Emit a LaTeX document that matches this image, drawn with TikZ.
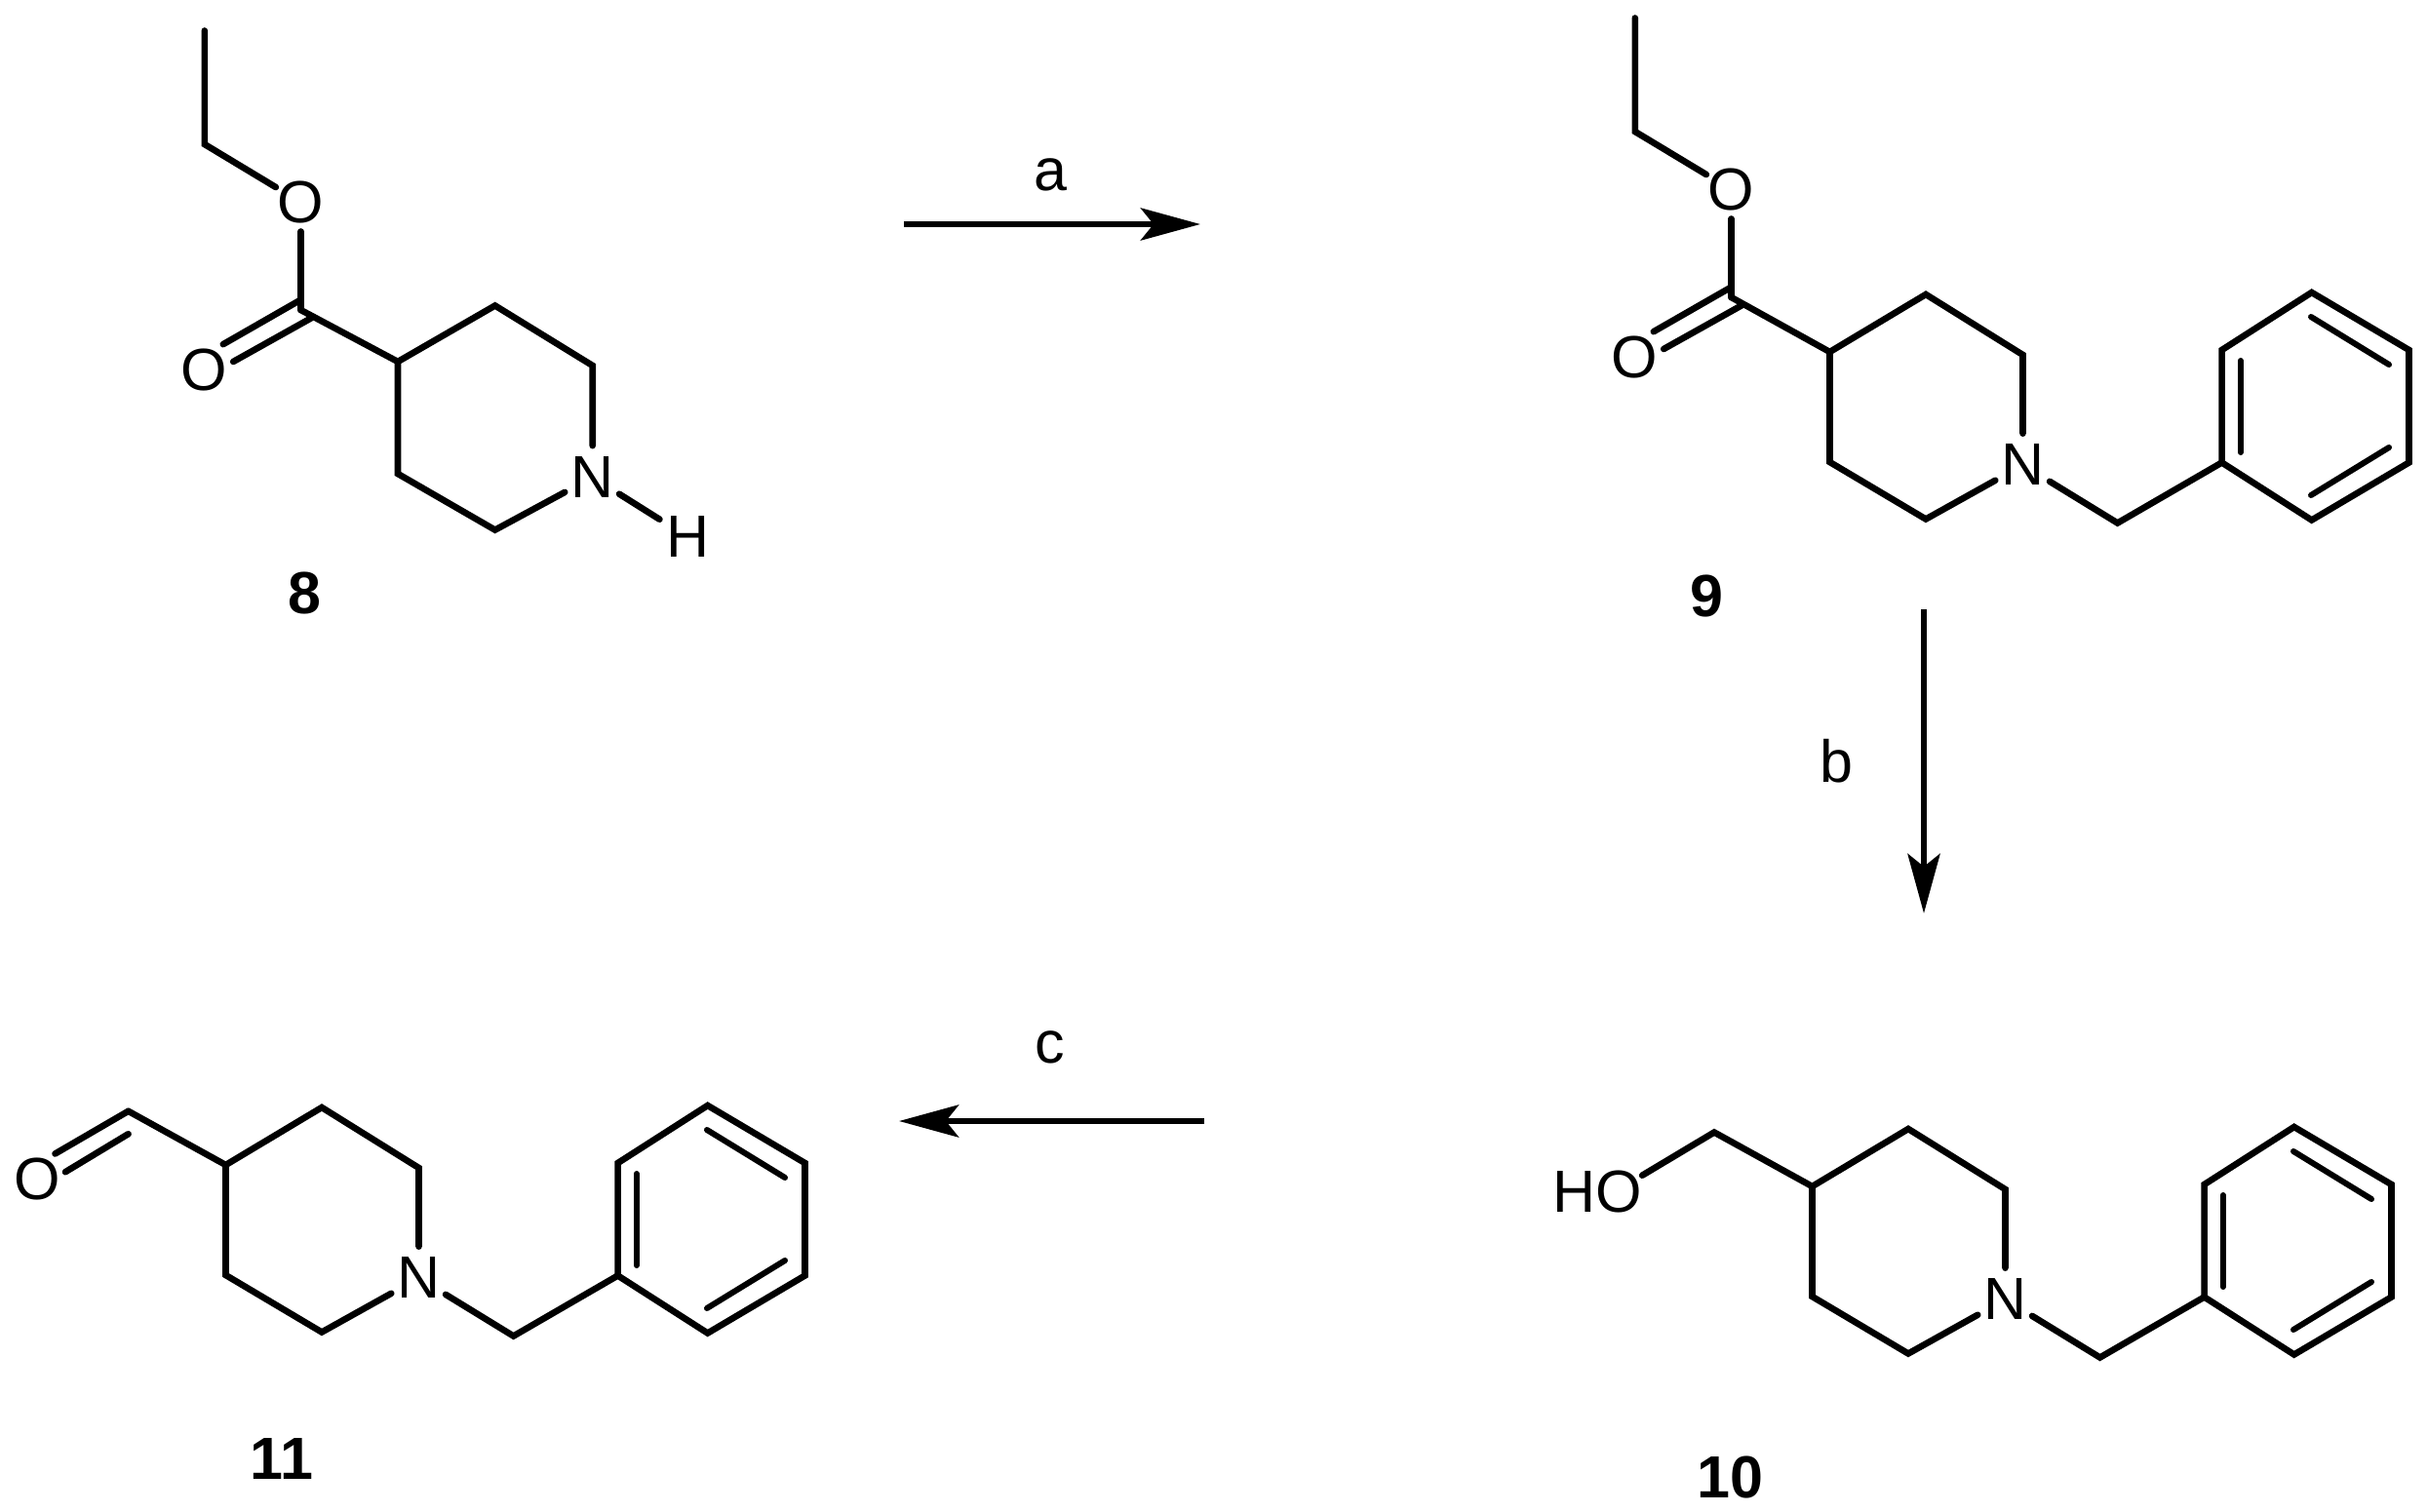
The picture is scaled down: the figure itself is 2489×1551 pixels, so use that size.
\documentclass[tikz,border=0pt]{standalone}
\usepackage{fontspec}
\setmainfont{Liberation Sans}
\usetikzlibrary{arrows.meta}
\tikzset{
  bond/.style={line width=3.3pt,line cap=round,line join=miter,black},
  inner/.style={line width=3pt,line cap=round,black},
  rxn/.style={line width=3.4pt,black,-{Stealth[length=30.5pt,width=16.5pt,inset=6.5pt]}},
  atom/.style={circle,inner sep=0pt,font=\fontsize{30.5}{30.5}\selectfont,outer sep=1pt},
  oxy/.style={atom,outer sep=-1pt},
  txt/.style={inner sep=0pt,font=\fontsize{30.5}{30.5}\selectfont},
  cmpd/.style={inner sep=0pt,font=\fontsize{30.5}{30.5}\selectfont\bfseries},
}
% N-benzylpiperidine fragment, atoms given as in compound 11
\newcommand{\benzylring}{%
  \coordinate (c4) at (231.5,1195);
  \coordinate (c3) at (330,1136);
  \coordinate (c2) at (429.5,1198);
  \node[atom] (n) at (429.5,1311) {N};
  \coordinate (c6) at (330,1366.5);
  \coordinate (c5) at (231.5,1308);
  \coordinate (bn) at (526.6,1370.5);
  \coordinate (p1) at (633.6,1308.5);
  \coordinate (p2) at (633.6,1193);
  \coordinate (p3) at (725.7,1134);
  \coordinate (p4) at (825.5,1193);
  \coordinate (p5) at (825.5,1308.5);
  \coordinate (p6) at (725.7,1367.5);
  \coordinate (i1) at (652.8,1204);
  \coordinate (i2) at (652.8,1298);
  \coordinate (i3) at (725,1159);
  \coordinate (i4) at (805,1208);
  \coordinate (i5) at (725,1342);
  \coordinate (i6) at (805,1293);
  \draw[bond] (n) -- (c2) -- (c3) -- (c4) -- (c5) -- (c6) -- (n);
  \draw[bond] (n) -- (bn) -- (p1);
  \draw[bond] (p1) -- (p2) -- (p3) -- (p4) -- (p5) -- (p6) -- cycle;
  \draw[inner] (i1) -- (i2);
  \draw[inner] (i3) -- (i4);
  \draw[inner] (i5) -- (i6);
}
% ethyl ester, atoms given as in compound 8
\newcommand{\ester}{%
  \coordinate (me) at (209.8,31.5);
  \coordinate (ch) at (209.8,148);
  \node[oxy] (o1) at (308.5,207.5) {O};
  \coordinate (co) at (308.5,318);
  \node[oxy] (o2) at (209.3,380) {O};
  \coordinate (d1) at (308.5,307.5);
  \coordinate (d2) at (228.8,353.2);
  \coordinate (d3) at (319.3,326.2);
  \coordinate (d4) at (239.2,371);
  \draw[bond] (me) -- (ch) -- (o1);
  \draw[bond] (o1) -- (co);
  \draw[bond] (d1) -- (d2);
  \draw[bond] (d3) -- (d4);
}
\begin{document}
\begin{tikzpicture}[x=0.5pt,y=-0.5pt]
\useasboundingbox (0,0) rectangle (2489,1551);
\fill[white] (0,0) rectangle (2489,1551);

% compound 8
\begin{scope}[name prefix=m8-]
  \ester
  \coordinate (c4) at (408,371);
  \coordinate (c3) at (507.7,313.5);
  \coordinate (c2) at (607.7,375);
  \node[atom] (n) at (607.7,489.5) {N};
  \coordinate (c6) at (507.7,543.6);
  \coordinate (c5) at (408,486);
  \node[atom,outer sep=2pt] (h) at (705.5,551) {H};
  \draw[bond] (co) -- (c4);
  \draw[bond] (n) -- (c2) -- (c3) -- (c4) -- (c5) -- (c6) -- (n);
  \draw[bond] (n) -- (h);
  \node[cmpd] (lab) at (312.4,609) {8};
\end{scope}

% compound 9
\begin{scope}[name prefix=m9e-,shift={(1467,-13)}]
  \ester
\end{scope}
\begin{scope}[name prefix=m9-,shift={(1645,-834)}]
  \benzylring
\end{scope}
\draw[bond] (m9e-co) -- (m9-c4);
\node[cmpd] (lab9) at (1750.7,611) {9};

% compound 10
\begin{scope}[name prefix=m10-,shift={(1627,22)}]
  \benzylring
\end{scope}
\node[txt] (ho) at (1638,1222.5) {HO};
\coordinate (m10ch) at (1758,1161.5);
\draw[bond] (ho.20) -- (m10ch) -- (m10-c4);
\node[cmpd] (lab10) at (1774,1515.5) {10};

% compound 11
\begin{scope}[name prefix=m11-]
  \benzylring
  \coordinate (cho) at (131.6,1139.8);
  \node[oxy] (o) at (38.3,1209.8) {O};
  \coordinate (e2) at (56.5,1183.5);
  \coordinate (e3) at (131.6,1163.2);
  \coordinate (e4) at (67,1202.2);
  \draw[bond] (cho) -- (c4);
  \draw[bond] (cho) -- (e2);
  \draw[bond] (e3) -- (e4);
\end{scope}
\node[cmpd] (lab11) at (289,1497) {11};

% reaction arrows
\coordinate (a1) at (927,230);
\coordinate (a2) at (1231,230);
\draw[rxn] (a1) -- (a2);
\node[txt] (la) at (1077,179) {a};
\coordinate (b1) at (1973,625);
\coordinate (b2) at (1973,937);
\draw[rxn] (b1) -- (b2);
\node[txt] (lb) at (1883,781) {b};
\coordinate (c1) at (1235,1150);
\coordinate (c2) at (922,1150);
\draw[rxn] (c1) -- (c2);
\node[txt] (lc) at (1077,1074) {c};
\end{tikzpicture}
\end{document}
